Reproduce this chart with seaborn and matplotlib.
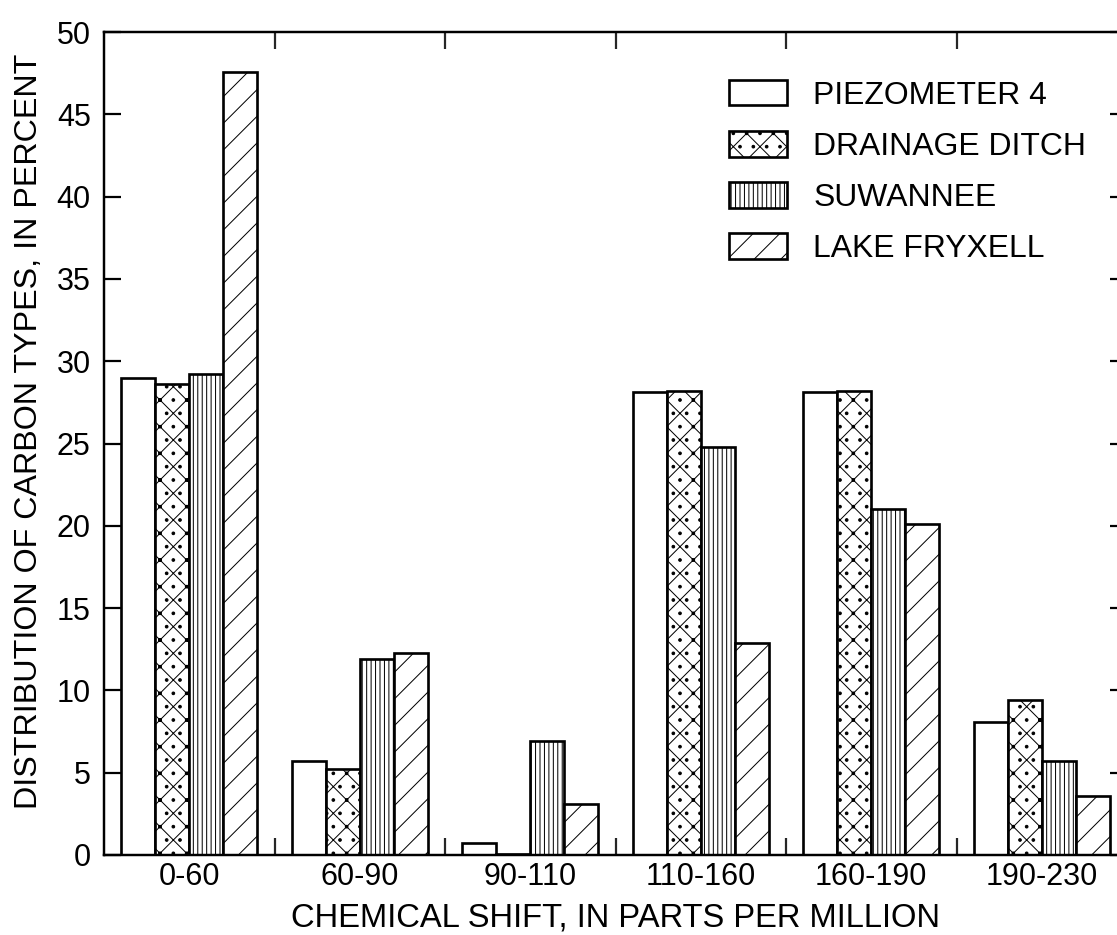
import matplotlib
matplotlib.use("Agg")
import matplotlib.pyplot as plt
import seaborn as sns
import pandas as pd
from matplotlib.ticker import FixedLocator, MultipleLocator

categories = ["0-60", "60-90", "90-110", "110-160", "160-190", "190-230"]
series = ["PIEZOMETER 4", "DRAINAGE DITCH", "SUWANNEE", "LAKE FRYXELL"]
piezometer4 = [29.0, 5.7, 0.7, 28.1, 28.1, 8.1]
drainage_ditch = [28.6, 5.2, 0.05, 28.2, 28.2, 9.4]
suwannee = [29.2, 11.9, 6.9, 24.8, 21.0, 5.7]
lake_fryxell = [47.6, 12.3, 3.1, 12.9, 20.1, 3.6]
hatches = ["", "x.", "|||", "/"]

values = [piezometer4, drainage_ditch, suwannee, lake_fryxell]
rows = []
for s, vals in zip(series, values):
    for c, v in zip(categories, vals):
        rows.append({"shift": c, "sample": s, "value": v})
df = pd.DataFrame(rows)

sns.set_theme(style="white")
plt.rcParams["font.family"] = ["Liberation Sans", "DejaVu Sans"]
plt.rcParams["hatch.linewidth"] = 0.9
plt.rcParams["hatch.color"] = "black"

DPI = 80
fig = plt.figure(figsize=(1117 / DPI, 935 / DPI), dpi=DPI)
ax = fig.add_axes([104 / 1117, 1 - 855 / 935, (1127 - 104) / 1117, (855 - 32) / 935])

sns.barplot(data=df, x="shift", y="value", hue="sample", order=categories,
            hue_order=series, palette=["white"] * 4, saturation=1,
            edgecolor="black", linewidth=2.4, width=0.8, gap=0,
            errorbar=None, legend=False, ax=ax)

for cont, h in zip(ax.containers, hatches):
    for p in cont.patches:
        p.set_hatch(h)
        p.set_edgecolor("black")

ax.set_xlim(-0.5, 5.5)
ax.set_ylim(0, 50)
ax.yaxis.set_major_locator(MultipleLocator(5))
ax.xaxis.set_minor_locator(FixedLocator([0.5, 1.5, 2.5, 3.5, 4.5]))

for sp in ax.spines.values():
    sp.set_visible(True)
    sp.set_color("black")
    sp.set_linewidth(2.2)

ax.tick_params(axis="y", which="major", direction="in", length=15, width=2.0,
               left=True, right=True, labelsize=27.5, pad=12, colors="black")
ax.tick_params(axis="x", which="major", length=0, labelsize=27.5, pad=6.5,
               colors="black")
ax.tick_params(axis="x", which="minor", direction="in", length=15, width=2.0,
               bottom=True, top=True)

ax.set_xlabel("CHEMICAL SHIFT, IN PARTS PER MILLION", fontsize=29.5,
              labelpad=9.5, color="black")
ax.set_ylabel("DISTRIBUTION OF CARBON TYPES, IN PERCENT", fontsize=29,
              color="black")
ax.yaxis.set_label_coords(-0.059, 0.515)

handles = [cont.patches[0] for cont in ax.containers]
leg = ax.legend(handles=handles, labels=series, loc="upper left",
                bbox_to_anchor=(729 / 1117, 1 - 80 / 935),
                bbox_transform=fig.transFigure, frameon=False,
                fontsize=28.7, handlelength=1.82, handleheight=0.85,
                handletextpad=0.82, labelspacing=0.64, borderpad=0,
                borderaxespad=0)
for t in leg.get_texts():
    t.set_color("black")

fig.savefig("out.png", dpi=DPI)
